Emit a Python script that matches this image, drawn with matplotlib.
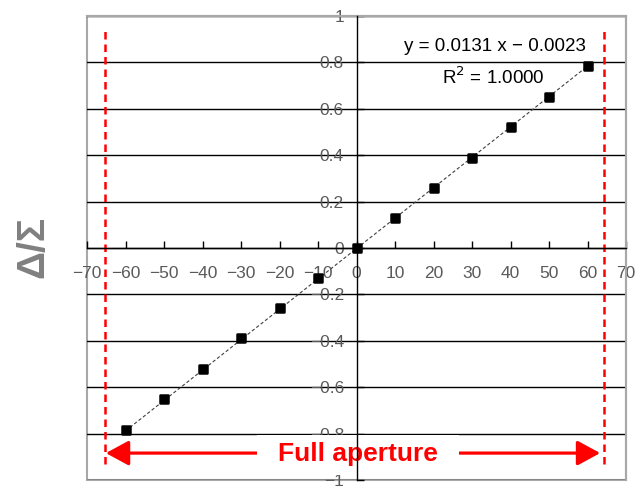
import numpy as np
import matplotlib
matplotlib.use('Agg')
from matplotlib import pyplot as plt
from matplotlib.markers import MarkerStyle

# measured points (angle vs delta/sum)
angles = [-60, -50, -40, -30, -20, -10, 0, 10, 20, 30, 40, 50, 60]
ratio = [-0.785, -0.652, -0.522, -0.39, -0.26, -0.131, 0.0,
         0.131, 0.26, 0.39, 0.523, 0.652, 0.785]

slope = 0.0131
intercept = -0.0023
r2 = 1.0

xticks = list(range(-70, 71, 10))
yticks = [-1, -0.8, -0.6, -0.4, -0.2, 0, 0.2, 0.4, 0.6, 0.8, 1]
ytick_labels = ['\u22121', '\u22120.8', '\u22120.6', '\u22120.4', '\u22120.2', '0',
                '0.2', '0.4', '0.6', '0.8', '1']

aperture_left = -65.3
aperture_right = 64.3

fig = plt.figure(figsize=(6.41, 4.91), dpi=100)
ax = fig.add_axes([87/641, 1 - 480/491, (626 - 87)/641, (480 - 16)/491])

ax.set_xlim(-70, 70)
ax.set_ylim(-1, 1)
ax.set_xticks(xticks)
ax.set_yticks(yticks)
ax.set_yticklabels(ytick_labels)

# excel style: axes crossing at zero, grey frame around the plot area
for side in ('left', 'bottom'):
    ax.spines[side].set_position(('data', 0))
    ax.spines[side].set_color('black')
    ax.spines[side].set_linewidth(1.0)
    ax.spines[side].set_zorder(9)
for side in ('right', 'top'):
    ax.spines[side].set_color('#a8a8a8')
    ax.spines[side].set_linewidth(1.5)
ax.add_patch(plt.Rectangle((0, 0), 1, 1, transform=ax.transAxes, fill=False,
                           edgecolor='#a8a8a8', lw=1.5, zorder=0.4, clip_on=False))

ax.yaxis.grid(True, color='black', lw=1.0)
ax.set_axisbelow(True)
ax.tick_params(direction='in', length=5, width=1, colors='black',
               labelcolor='#5a5a5a', labelsize=12.5)
for lab in ax.get_xticklabels() + ax.get_yticklabels():
    lab.set_family('Liberation Sans')
ax.tick_params(axis='y', pad=9)
ax.tick_params(axis='x', pad=13)

xs = np.array([angles[0], angles[-1]])
ax.plot(xs, slope * xs + intercept, ls=(0, (3, 2)), color='#404040', lw=0.8, zorder=5)
ax.plot(angles, ratio, ls='none', marker=MarkerStyle('s', joinstyle='round'),
        color='black', ms=6.3, mew=1.8, zorder=6)

ax.text(36, 0.868, f'y = {slope:.4f} x \u2212 {abs(intercept):.4f}', ha='center', va='center',
        fontsize=13.5, family='Liberation Sans', color='black', zorder=6)
ax.text(35.5, 0.738, f'R$^2$ = {r2:.4f}', ha='center', va='center',
        fontsize=13.5, family='Liberation Sans', color='black', zorder=6)

for xa in (aperture_left, aperture_right):
    ax.plot([xa, xa], [-0.93, 0.95], color='red', ls=(0, (3, 2)), lw=1.8, zorder=7)

ax.annotate('', xy=(aperture_left + 0.2, -0.884), xytext=(aperture_right - 1.0, -0.884),
            arrowprops=dict(arrowstyle='<|-|>,head_length=0.7,head_width=0.38',
                            mutation_scale=20, color='red', lw=2.3,
                            shrinkA=0, shrinkB=0), zorder=7)
ax.add_patch(plt.Rectangle((-25.8, -0.978), 52.3, 0.172, facecolor='white',
                           edgecolor='none', zorder=7.5))
ax.text(0.4, -0.888, 'Full aperture', ha='center', va='center', color='red',
        fontsize=19, fontweight='bold', family='Liberation Sans', zorder=8)

fig.text(33.5/641, 1 - 247/491, '\u0394/\u03a3', rotation=90, ha='center', va='center',
         fontsize=28, fontweight='bold', color='#808080', family='Liberation Sans')

fig.savefig('out.png', dpi=100)
